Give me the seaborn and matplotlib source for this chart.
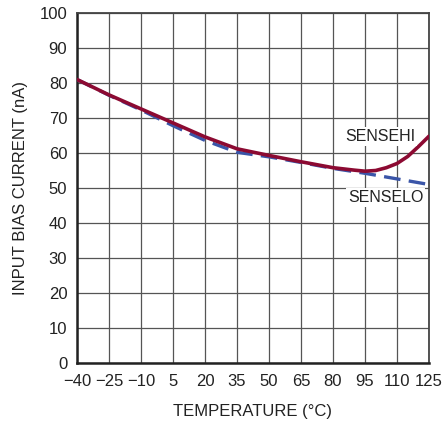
import matplotlib
matplotlib.use("Agg")
import matplotlib.pyplot as plt
import seaborn as sns
import pandas as pd

temp_hi = [-40, -25, -10, 5, 20, 35, 50, 65, 80, 90, 95, 100, 105, 110, 115, 120, 125]
sensehi = [81.0, 76.6, 72.6, 68.6, 64.6, 61.2, 59.3, 57.5, 55.8, 55.1, 54.8, 55.0, 55.8, 57.0, 59.0, 61.8, 64.8]
temp_lo = [-40, -25, -10, 5, 20, 35, 50, 65, 80, 95, 110, 125]
senselo = [81.0, 76.5, 72.3, 67.8, 63.6, 60.2, 58.9, 57.3, 55.6, 54.2, 52.6, 51.0]

x_ticks = [-40, -25, -10, 5, 20, 35, 50, 65, 80, 95, 110, 125]
x_labels = ["\u221240", "\u221225", "\u221210", "5", "20", "35", "50", "65", "80", "95", "110", "125"]
y_ticks = [0, 10, 20, 30, 40, 50, 60, 70, 80, 90, 100]

sns.set_theme(style="white")
plt.rcParams['font.family'] = ['Liberation Sans Narrow', 'Liberation Sans', 'DejaVu Sans']

fig = plt.figure(figsize=(4.42, 4.23), dpi=100)
ax = fig.add_axes([77/442, 1-363/423, (429-77)/442, (363-13)/423])

df_hi = pd.DataFrame({"t": temp_hi, "v": sensehi})
df_lo = pd.DataFrame({"t": temp_lo, "v": senselo})

sns.lineplot(data=df_lo, x="t", y="v", ax=ax, color="#3a55a8", lw=2.4,
             linestyle=(0, (5, 2.5)), zorder=3)
sns.lineplot(data=df_hi, x="t", y="v", ax=ax, color="#8c0a32", lw=2.6, zorder=4)

ax.set_xlim(-40, 125)
ax.set_ylim(0, 100)
ax.set_xticks(x_ticks)
ax.set_xticklabels(x_labels)
ax.set_yticks(y_ticks)
ax.grid(True, color="#555555", lw=0.9)
ax.tick_params(axis="both", labelsize=12, colors="#222222", length=0)
ax.tick_params(axis="x", pad=8)
ax.tick_params(axis="y", pad=7)
ax.set_xlabel("TEMPERATURE (\u00b0C)", fontsize=12, color="#222222", labelpad=11)
ax.set_ylabel("INPUT BIAS CURRENT (nA)", fontsize=12, color="#222222", labelpad=8)

for side in ["left", "bottom"]:
    ax.spines[side].set_color("#222222")
    ax.spines[side].set_linewidth(1.8)
for side in ["top", "right"]:
    ax.spines[side].set_color("#444444")
    ax.spines[side].set_linewidth(1.3)

bbox = dict(facecolor="white", edgecolor="none", pad=1.5)
ax.text(102.0, 64.6, "SENSEHI", fontsize=11.5, color="#222222", ha="center", va="center", bbox=bbox, zorder=5)
ax.text(104.6, 47.4, "SENSELO", fontsize=11.5, color="#222222", ha="center", va="center", bbox=bbox, zorder=5)

fig.savefig("out.png", dpi=100)
